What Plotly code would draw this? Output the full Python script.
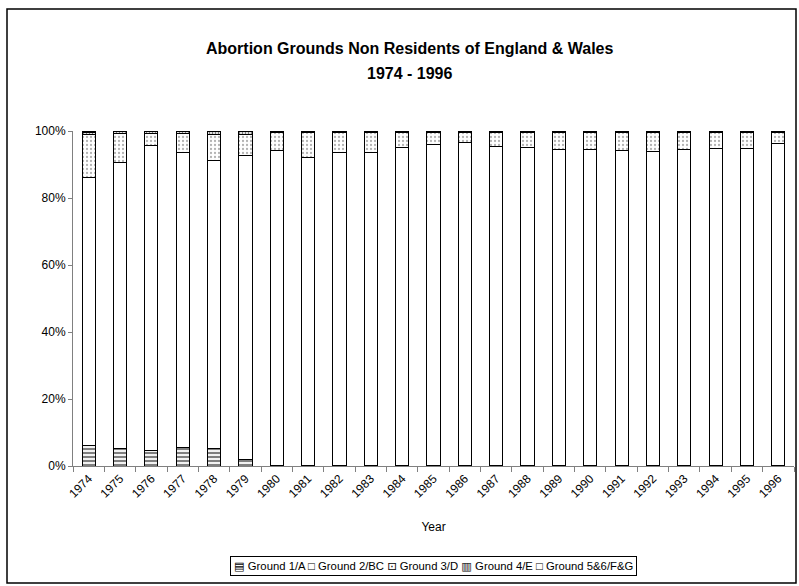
import plotly.graph_objects as go

years = [str(y) for y in range(1974, 1997)]
ground1 = [6.2, 5.1, 4.5, 5.4, 5.3, 1.8, 0.3, 0.2, 0.2, 0.2, 0.1, 0.1, 0.1, 0.1, 0.1, 0.1, 0.1, 0.1, 0.1, 0.1, 0.1, 0.1, 0.1]
ground2 = [79.8, 85.6, 91.1, 88.2, 85.9, 91.0, 93.9, 91.8, 93.5, 93.4, 94.9, 95.9, 96.6, 95.4, 94.9, 94.4, 94.4, 94.0, 93.7, 94.4, 94.6, 94.7, 96.1]
ground3 = [12.9, 8.5, 3.8, 5.6, 7.8, 6.3, 5.4, 7.6, 5.9, 6.0, 4.6, 3.6, 2.9, 4.1, 4.6, 5.1, 5.1, 5.5, 5.8, 5.1, 4.9, 4.8, 3.4]
ground4 = [0.8, 0.6, 0.4, 0.6, 0.8, 0.7, 0.2, 0.2, 0.2, 0.2, 0.2, 0.2, 0.2, 0.2, 0.2, 0.2, 0.2, 0.2, 0.2, 0.2, 0.2, 0.2, 0.2]
ground5 = [0.3, 0.2, 0.2, 0.2, 0.2, 0.2, 0.2, 0.2, 0.2, 0.2, 0.2, 0.2, 0.2, 0.2, 0.2, 0.2, 0.2, 0.2, 0.2, 0.2, 0.2, 0.2, 0.2]
names = ["Ground 1/A", "Ground 2/BC", "Ground 3/D", "Ground 4/E", "Ground 5&6/F&G"]
legend_glyphs = ["▤", "□", "⊡", "▥", "□"]
title_lines = ["Abortion Grounds Non Residents of England & Wales", "1974 - 1996"]

patterns = [
    dict(shape="-", fgcolor="black", bgcolor="white", size=4, solidity=0.55),
    dict(shape="", bgcolor="white"),
    dict(shape=".", fgcolor="#666666", bgcolor="white", size=4, solidity=0.25),
    dict(shape="|", fgcolor="black", bgcolor="white", size=3, solidity=0.5),
    dict(shape="", bgcolor="white"),
]

fig = go.Figure()
for name, vals, pat in zip(names, [ground1, ground2, ground3, ground4, ground5], patterns):
    fig.add_trace(go.Bar(
        x=years, y=vals, name=name,
        marker=dict(color="white", pattern=pat, line=dict(color="black", width=1)),
    ))

W, H = 799, 586
L, R, T, B = 73, 5, 131, 120
pw, ph = W - L - R, H - T - B

def px(x):
    return (x - L) / pw

def py(y):
    return (H - B - y) / ph

FONT = "Liberation Sans, Arial, DejaVu Sans"

fig.update_layout(
    width=W, height=H,
    margin=dict(l=L, r=R, t=T, b=B),
    barmode="stack", barnorm="percent", bargap=0.58,
    paper_bgcolor="white", plot_bgcolor="white",
    font=dict(family=FONT, size=12, color="black"),
    showlegend=False,
    xaxis=dict(
        type="category", tickangle=-45, showline=True, linecolor="#808080", linewidth=1,
        ticks="outside", tickson="boundaries", ticklen=5, tickcolor="#808080",
        showgrid=False, title=dict(text="Year", font=dict(size=12), standoff=22),
        tickfont=dict(size=12),
    ),
    yaxis=dict(
        range=[0, 100], dtick=20, ticksuffix="%", showline=True, linecolor="#808080",
        linewidth=1, ticks="outside", ticklen=4, tickcolor="#808080", showgrid=False,
        zeroline=False, tickfont=dict(size=12),
    ),
)

# title (two lines)
for txt, yy in zip(title_lines, [48, 73]):
    fig.add_annotation(
        text="<b>" + txt + "</b>", xref="paper", yref="paper",
        x=px(410), y=py(yy), xanchor="center", yanchor="middle", showarrow=False,
        font=dict(size=16, family=FONT, color="black"),
    )

# legend as text
legend_text = " ".join(g + " " + n for g, n in zip(legend_glyphs, names))
fig.add_annotation(
    text=legend_text, xref="paper", yref="paper",
    x=px(433), y=py(565.5), xanchor="center", yanchor="middle", showarrow=False,
    font=dict(size=11.3, family=FONT, color="black"),
    bordercolor="black", borderwidth=1, borderpad=3, bgcolor="white",
)

fig.add_shape(
    type="rect", xref="paper", yref="paper",
    x0=px(7), x1=px(796), y0=py(583), y1=py(9),
    line=dict(color="black", width=1.5), fillcolor="rgba(0,0,0,0)", layer="above",
)

fig.write_html("out.html")
